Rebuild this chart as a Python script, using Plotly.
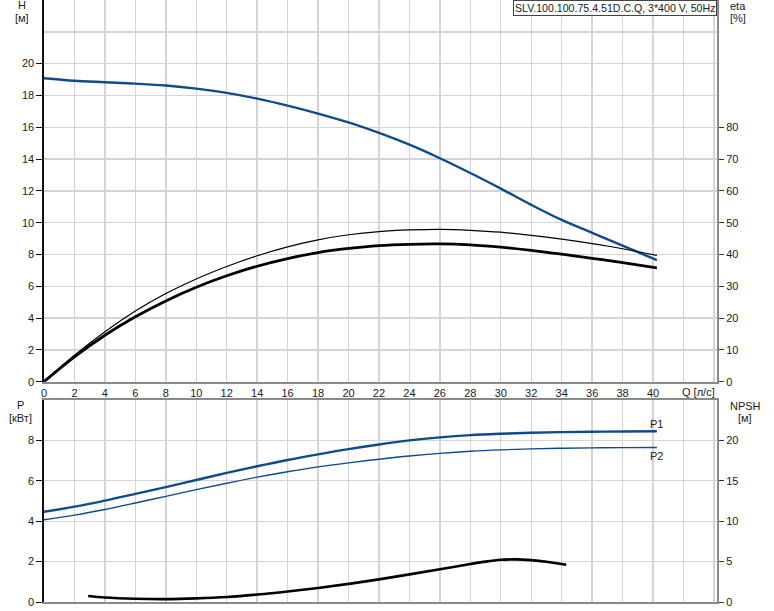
import plotly.graph_objects as go

# ---------------- data ----------------
q = [0, 2, 4, 6, 8, 10, 12, 14, 16, 18, 20, 22, 24, 26, 28, 30, 32, 34, 36, 38, 40.25]
head = [19.08, 18.92, 18.83, 18.74, 18.62, 18.43, 18.16, 17.8, 17.36, 16.86, 16.3,
        15.64, 14.9, 14.05, 13.12, 12.14, 11.12, 10.17, 9.36, 8.55, 7.65]
eta_thin = [0, 8.3, 15.7, 22.2, 27.7, 32.3, 36.2, 39.6, 42.4, 44.6, 46.2,
            47.2, 47.7, 47.9, 47.6, 47.0, 46.0, 44.8, 43.4, 41.8, 39.7]
eta_thick = [0, 7.8, 14.6, 20.4, 25.4, 29.7, 33.3, 36.3, 38.7, 40.6, 41.9,
             42.8, 43.2, 43.3, 43.0, 42.3, 41.3, 40.1, 38.8, 37.4, 35.8]
p1 = [4.47, 4.72, 5.02, 5.35, 5.69, 6.04, 6.39, 6.72, 7.03, 7.31, 7.57,
      7.80, 8.00, 8.15, 8.26, 8.33, 8.38, 8.41, 8.43, 8.44, 8.45]
p2 = [4.07, 4.30, 4.58, 4.90, 5.23, 5.56, 5.88, 6.18, 6.45, 6.69, 6.89,
      7.07, 7.23, 7.36, 7.46, 7.53, 7.58, 7.61, 7.63, 7.64, 7.65]
q_npsh = [2.9, 4, 6, 8, 10, 12, 14, 16, 18, 20, 22, 24, 26, 28, 29, 30, 31, 32, 33, 34.3]
npsh = [0.74, 0.55, 0.4, 0.36, 0.45, 0.62, 0.92, 1.3, 1.74, 2.24, 2.8, 3.42, 4.05,
        4.7, 5.0, 5.22, 5.28, 5.18, 4.98, 4.6]

x_ticks = list(range(0, 46, 2))
x_text = [str(v) if v <= 40 else "" for v in x_ticks]
h_ticks = list(range(0, 22, 2))
h_extra_grid = [22]
eta_ticks = list(range(0, 90, 10))
p_ticks = [0, 2, 4, 6, 8]
npsh_ticks = [0, 5, 10, 15, 20]

model_text = "SLV.100.100.75.4.51D.C.Q, 3*400 V, 50Hz"

# ---------------- figure ----------------
BLUE = "#0e4a8c"
GRID = "#d4d4d4"
AXG = "#8a8a8a"
FONT = dict(family="Liberation Sans, Arial, sans-serif", size=11, color="#1a1a1a")

W, H_PX = 774, 611
ML, MR, MT, MB = 44, 57, 0, 9
PW = W - ML - MR
PH = H_PX - MT - MB


def px(x):
    return (x - ML) / PW


def py(y):
    return (PH + MT - y) / PH


fig = go.Figure()

fig.add_trace(go.Scatter(x=q, y=head, mode="lines", line=dict(color=BLUE, width=2.4, shape="spline"),
                         xaxis="x", yaxis="y", showlegend=False))
fig.add_trace(go.Scatter(x=q, y=eta_thin, mode="lines", line=dict(color="black", width=1.2, shape="spline"),
                         xaxis="x", yaxis="y2", showlegend=False))
fig.add_trace(go.Scatter(x=q, y=eta_thick, mode="lines", line=dict(color="black", width=2.8, shape="spline"),
                         xaxis="x", yaxis="y2", showlegend=False))
fig.add_trace(go.Scatter(x=q, y=p1, mode="lines", line=dict(color=BLUE, width=2.4, shape="spline"),
                         xaxis="x2", yaxis="y3", showlegend=False))
fig.add_trace(go.Scatter(x=q, y=p2, mode="lines", line=dict(color=BLUE, width=1.4, shape="spline"),
                         xaxis="x2", yaxis="y3", showlegend=False))
fig.add_trace(go.Scatter(x=q_npsh, y=npsh, mode="lines", line=dict(color="black", width=2.6, shape="spline"),
                         xaxis="x2", yaxis="y4", showlegend=False))

top_dom = [(PH - 381.7) / PH, 1.0]
bot_dom = [0.0, (PH - 400) / PH]
xr = [0, 44.2]

common_x = dict(range=xr, tickvals=x_ticks, showgrid=True, gridcolor=GRID, gridwidth=1.4,
                zeroline=False, showline=True, linecolor=AXG, linewidth=2.4, tickfont=FONT,
                fixedrange=True, automargin=False)

fig.update_layout(
    width=W, height=H_PX,
    margin=dict(l=ML, r=MR, t=MT, b=MB, autoexpand=False),
    paper_bgcolor="white", plot_bgcolor="white",
    font=FONT,
    hovermode=False,
    xaxis=dict(**common_x, domain=[0, 1], anchor="y", ticktext=x_text, ticks=""),
    yaxis=dict(domain=top_dom, range=[0, 24], tickvals=h_ticks,
               showgrid=True, gridcolor=GRID, gridwidth=1.4, zeroline=False,
               minor=dict(tickvals=h_extra_grid, showgrid=True, gridcolor=GRID, gridwidth=1.4, ticks=""),
               showline=True, linecolor="#111111", linewidth=1.6, automargin=False,
               ticks="outside", ticklen=6, tickcolor="#111111", tickfont=FONT, anchor="x",
               fixedrange=True),
    yaxis2=dict(range=[0, 120], tickvals=eta_ticks, overlaying="y", side="right", anchor="x",
                showgrid=False, zeroline=False, showline=True, linecolor=AXG, linewidth=2,
                automargin=False, fixedrange=True,
                ticks="outside", ticklen=5, tickcolor="#333333", tickfont=FONT),
    xaxis2=dict(**common_x, domain=[0, 1], anchor="y3", showticklabels=False, mirror=True),
    yaxis3=dict(domain=bot_dom, range=[0, 10], tickvals=p_ticks, anchor="x2",
                showgrid=True, gridcolor=GRID, gridwidth=1.4, zeroline=False,
                showline=True, linecolor="#111111", linewidth=1.6, automargin=False,
                fixedrange=True,
                ticks="outside", ticklen=6, tickcolor="#111111", tickfont=FONT),
    yaxis4=dict(range=[0, 25], tickvals=npsh_ticks, overlaying="y3", side="right", anchor="x2",
                showgrid=False, zeroline=False, showline=True, linecolor=AXG, linewidth=2,
                automargin=False, fixedrange=True,
                ticks="outside", ticklen=5, tickcolor="#333333", tickfont=FONT),
)

ann = [
    ("H", 21.5, 5), ("[м]", 22, 17.5),
    ("eta", 738, 6), ("[%]", 738, 18),
    ("P", 20, 405), ("[кВт]", 20.5, 418),
    ("NPSH", 745.5, 405.5), ("[м]", 745, 418),
    ("Q [л/с]", 698, 392),
]
for t, x, y in ann:
    fig.add_annotation(text=t, x=px(x), y=py(y), xref="paper", yref="paper",
                       xanchor="center", yanchor="middle", showarrow=False, font=FONT)

fig.add_annotation(text="P1", x=40.25, y=8.45, xref="x2", yref="y3", xanchor="center",
                   yanchor="bottom", yshift=-1, showarrow=False, font=FONT)
fig.add_annotation(text="P2", x=40.25, y=7.65, xref="x2", yref="y3", xanchor="center",
                   yanchor="top", yshift=-1, showarrow=False, font=FONT)

fig.add_annotation(text=model_text, x=px(717), y=1.0, xref="paper", yref="paper",
                   xanchor="right", yanchor="top", showarrow=False,
                   font=dict(family=FONT["family"], size=10.6, color="#1a1a1a"),
                   bgcolor="white", bordercolor="#444444", borderwidth=1, borderpad=1)

fig.write_html("out.html",
               config={"displayModeBar": False, "staticPlot": True},
               post_script="document.body.style.margin='0';document.body.style.padding='0';")
